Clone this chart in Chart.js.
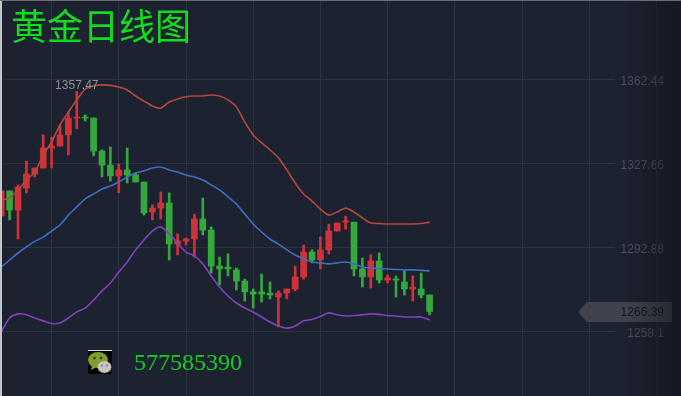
<!DOCTYPE html>
<html>
<head>
<meta charset="utf-8">
<script src="https://cdn.jsdelivr.net/npm/chart.js@4/dist/chart.umd.min.js"></script>
<style>
  html, body { margin: 0; padding: 0; background: #1d2230; }
  #wrap { position: relative; width: 681px; height: 396px; overflow: hidden; }
  #fade { position: absolute; left: 625px; top: 0; width: 56px; height: 396px;
    background: linear-gradient(to right, rgba(16,18,26,0), rgba(16,18,26,.6)); }
  #edgeL { position: absolute; left: 0; top: 0; width: 2px; height: 396px; background: #c4c5c8; }
  #edgeT { position: absolute; left: 0; top: 0; width: 681px; height: 1px; background: #6a6d74; }
  #title { position: absolute; left: 11px; top: 1px; font: 36px "Noto Sans CJK SC"; line-height: 46px; color: #12dc1e; white-space: nowrap; }
  #qq { position: absolute; left: 134px; top: 348px; font: 24px "Liberation Serif"; line-height: 28px; color: #12d020; }
  #icon { position: absolute; left: 88px; top: 350px; }
</style>
</head>
<body>
<div id="wrap">
  <canvas id="c" width="681" height="396"></canvas>
  <div id="fade"></div>
  <div id="edgeL"></div>
  <div id="edgeT"></div>
  <div id="title">黄金日线图</div>
  <svg id="icon" width="24" height="24" viewBox="0 0 24 24">
    <rect width="24" height="24" fill="#000"/>
    <rect width="24" height="1" fill="#ddd"/>
    <ellipse cx="10" cy="10" rx="10" ry="8" fill="#7f9e2c"/>
    <path d="M4 15 L3 20 L9 17 Z" fill="#7f9e2c"/>
    <circle cx="6.5" cy="8" r="1.2" fill="#2a3310"/>
    <circle cx="13" cy="8" r="1.2" fill="#2a3310"/>
    <ellipse cx="16.5" cy="17" rx="7" ry="6" fill="#c4c4c2"/>
    <circle cx="14" cy="15.5" r=".9" fill="#777"/>
    <circle cx="19" cy="15.5" r=".9" fill="#777"/>
  </svg>
  <div id="qq">577585390</div>
</div>
<script>
// candles, oldest first
const opens = [1305.9,1316.3,1308.4,1317.5,1323.3,1325.8,1334.1,1334.9,1339.5,1346.5,1346.9,1346.5,1332.8,1327.0,1322.5,1325.0,1322.9,1320.0,1307.6,1309.2,1311.3,1294.3,1295.6,1296.4,1304.7,1300.1,1285.2,1284.8,1283.6,1279.0,1274.5,1274.5,1274.0,1272.4,1274.0,1275.7,1280.7,1291.0,1287.7,1291.9,1299.7,1303.4,1303.4,1284.0,1280.7,1287.3,1279.4,1279.8,1278.6,1275.7,1275.7,1273.2];
const highs = [1316.3,1316.3,1318.8,1328.7,1325.8,1339.5,1338.6,1343.6,1349.0,1357.47,1347.8,1346.5,1333.3,1334.5,1327.5,1334.1,1323.7,1320.0,1310.5,1315.9,1315.5,1298.5,1296.8,1306.7,1313.4,1301.4,1288.9,1290.2,1284.4,1279.8,1275.7,1281.9,1278.6,1274.9,1275.7,1285.2,1293.9,1291.9,1297.2,1302.6,1303.0,1305.9,1303.4,1288.5,1289.8,1290.6,1281.5,1281.1,1283.2,1281.1,1282.3,1273.2];
const lows = [1305.9,1304.3,1296.4,1315.5,1322.1,1325.8,1325.8,1334.9,1331.2,1342.0,1345.3,1330.8,1322.1,1320.4,1315.5,1319.6,1320.0,1306.3,1304.3,1304.7,1287.7,1289.8,1293.9,1288.9,1298.1,1282.3,1277.4,1281.1,1275.3,1270.7,1267.8,1270.3,1271.6,1260.0,1271.6,1274.9,1279.8,1286.5,1284.0,1290.2,1299.7,1300.5,1281.1,1276.5,1276.1,1278.2,1278.2,1272.4,1273.2,1270.7,1272.0,1265.0];
const closes = [1316.3,1308.4,1317.9,1323.3,1325.8,1334.1,1334.9,1339.5,1346.5,1346.9,1346.5,1332.8,1327.0,1322.5,1325.0,1322.9,1320.0,1307.2,1309.2,1311.3,1294.3,1295.6,1296.4,1304.7,1300.1,1285.2,1284.0,1284.0,1279.0,1274.5,1273.6,1273.6,1273.2,1274.0,1275.7,1280.7,1291.0,1287.7,1291.9,1299.7,1303.0,1303.9,1284.0,1280.7,1287.3,1279.4,1280.3,1279.4,1275.7,1276.5,1273.2,1266.39];

// bollinger bands
const upper = [1312.6,1313.4,1316.7,1320.8,1324.1,1331.2,1336.6,1343.6,1349.0,1354.0,1358.5,1359.8,1360.2,1360.0,1359.3,1358.1,1355.6,1353.5,1351.5,1350.6,1353.1,1354.4,1355.3,1355.6,1355.6,1356.0,1355.6,1354.0,1351.1,1344.8,1339.5,1336.2,1333.3,1330.0,1325.0,1319.6,1315.0,1312.1,1308.8,1306.3,1307.6,1309.2,1307.6,1305.1,1303.0,1302.8,1302.6,1302.6,1302.6,1302.6,1302.8,1303.4];
const middle = [1284.8,1287.7,1290.6,1293.1,1295.4,1297.2,1299.7,1302.2,1306.3,1309.7,1313.0,1315.0,1317.1,1318.3,1320.0,1322.1,1323.7,1324.6,1325.8,1326.2,1325.0,1324.1,1322.9,1322.1,1320.8,1318.8,1316.7,1313.8,1310.9,1306.7,1302.6,1299.3,1296.4,1294.3,1291.9,1289.8,1288.3,1286.9,1286.5,1286.1,1286.5,1286.9,1286.1,1284.8,1284.4,1284.2,1284.0,1283.8,1283.6,1283.6,1283.4,1283.2];
const lower = [1257.9,1263.7,1265.4,1265.0,1263.7,1262.5,1261.4,1261.6,1263.7,1266.2,1267.8,1271.1,1274.9,1278.2,1282.7,1286.9,1291.9,1296.0,1299.7,1301.4,1298.5,1294.8,1291.0,1289.4,1286.1,1281.1,1276.5,1272.8,1269.9,1267.8,1266.2,1264.1,1262.0,1260.4,1259.5,1260.4,1262.5,1263.1,1264.3,1265.8,1265.0,1264.5,1264.7,1265.0,1265.4,1265.2,1264.7,1264.5,1264.1,1264.1,1264.1,1262.9];

const priceTicks = [1362.44, 1327.66, 1292.88, 1258.1];
const gridDays = [6, 14, 22, 30, 38, 46, 54, 62, 70];
const lastPrice = 1266.39;
const highLabel = 1357.47;

const RED = "#cf3339";
const GREEN = "#35a83d";
const candleColors = closes.map((c, i) => (c >= opens[i] ? RED : GREEN));
const GRID = "#2c3240";

function points(arr) {
  return arr.map((v, i) => ({ x: i, y: v }));
}

// extras that the scales do not give: the far vertical line and the two price tags
const extras = {
  id: "extras",
  beforeDatasetsDraw(chart) {
    const ctx = chart.ctx;
    const x = chart.scales.x.getPixelForValue(78);
    ctx.save();
    ctx.strokeStyle = "#262b38";
    ctx.beginPath();
    ctx.moveTo(Math.round(x) + 0.5, 0);
    ctx.lineTo(Math.round(x) + 0.5, 396);
    ctx.stroke();
    ctx.restore();
  },
  afterDraw(chart) {
    const ctx = chart.ctx;
    const { x, y } = chart.scales;
    ctx.save();
    ctx.font = '12px "Liberation Sans"';

    ctx.fillStyle = "#8c8f97";
    ctx.textAlign = "center";
    ctx.textBaseline = "middle";
    ctx.fillText(highLabel.toFixed(2), x.getPixelForValue(9), y.getPixelForValue(highLabel) - 6);

    const py = Math.round(y.getPixelForValue(lastPrice)) + 1;
    ctx.fillStyle = "#40434d";
    ctx.beginPath();
    ctx.moveTo(578, py);
    ctx.lineTo(587, py - 10);
    ctx.lineTo(672, py - 10);
    ctx.lineTo(672, py + 10);
    ctx.lineTo(587, py + 10);
    ctx.closePath();
    ctx.fill();
    ctx.fillStyle = "#14161d";
    ctx.textAlign = "right";
    ctx.fillText(lastPrice.toFixed(2), 664, py + 1);
    ctx.restore();
  },
};

function band(data, color) {
  return {
    type: "line",
    data: points(data),
    borderColor: color,
    borderWidth: 1.6,
    pointRadius: 0,
    tension: 0.25,
    order: 1,
  };
}

new Chart(document.getElementById("c"), {
  type: "bar",
  plugins: [extras],
  data: {
    datasets: [
      band(upper, "#b5483a"),
      band(middle, "#3b6fc6"),
      band(lower, "#7f42bc"),
      {
        data: opens.map((o, i) => ({ x: i, y: [o, closes[i]] })),
        backgroundColor: candleColors,
        barThickness: 6,
        grouped: false,
        order: 2,
      },
      {
        data: highs.map((h, i) => ({ x: i, y: [lows[i], h] })),
        backgroundColor: candleColors,
        barThickness: 2,
        grouped: false,
        order: 3,
      },
    ],
  },
  options: {
    responsive: false,
    animation: false,
    layout: { padding: { right: 17 } },
    plugins: { legend: { display: false }, tooltip: { enabled: false }, title: { display: false } },
    scales: {
      x: {
        type: "linear",
        offset: false,
        min: -1.2 / 8.4,
        max: (615 - 1.2) / 8.4,
        border: { display: false },
        grid: { color: GRID, drawTicks: false, offset: false },
        ticks: { display: false },
        afterBuildTicks(scale) {
          scale.ticks = gridDays.map((v) => ({ value: v }));
        },
        afterFit(scale) {
          scale.height = 0;
        },
      },
      y: {
        position: "right",
        min: 1231.39,
        max: 1395.36,
        border: { display: false },
        grid: { color: GRID, drawTicks: false },
        ticks: {
          autoSkip: false,
          padding: 6,
          labelOffset: 2,
          crossAlign: "far",
          color: "#4e525f",
          font: { family: "Liberation Sans", size: 12 },
          callback: (v) => String(v),
        },
        afterBuildTicks(scale) {
          scale.ticks = priceTicks.map((v) => ({ value: v }));
        },
        afterFit(scale) {
          scale.width = 49;
          scale.paddingTop = 0;
          scale.paddingBottom = 0;
        },
      },
    },
  },
});
</script>
</body>
</html>
